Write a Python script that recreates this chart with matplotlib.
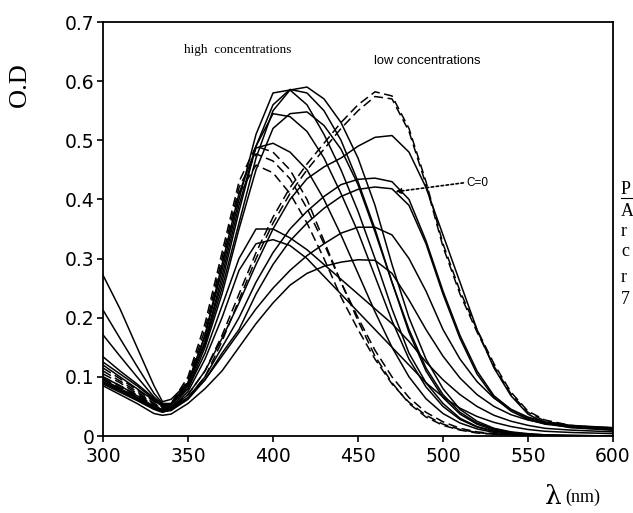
import matplotlib
matplotlib.use("Agg")
import matplotlib.pyplot as plt
from matplotlib.lines import Line2D

# Wavelength grid (nm)
wavelength = [300, 310, 320, 330, 335, 340, 350, 360, 370, 380, 390, 400, 410, 420, 430,
              440, 450, 460, 470, 480, 490, 500, 510, 520, 530, 540, 550, 560, 575, 600]

# ---- high concentrations (band near 390-420 nm) ----
curve_A = [.134, .110, .088, .064, .055, .055, .090, .170, .280, .400, .510, .580, .585, .560, .510,
           .450, .380, .300, .215, .140, .090, .055, .030, .016, .008, .004, .002, .001, .000, .000]
curve_B = [.213, .165, .118, .072, .055, .052, .085, .160, .260, .380, .490, .560, .586, .580, .550,
           .500, .430, .350, .260, .175, .110, .065, .037, .020, .010, .005, .003, .001, .000, .000]
curve_C = [.272, .215, .150, .085, .058, .062, .090, .155, .250, .360, .470, .550, .585, .590, .570,
           .530, .470, .390, .290, .200, .130, .080, .045, .025, .013, .007, .004, .002, .001, .000]
curve_D = [.125, .105, .085, .062, .052, .053, .085, .160, .270, .390, .490, .545, .540, .515, .470,
           .410, .345, .270, .195, .130, .083, .050, .028, .015, .008, .004, .002, .001, .000, .000]
curve_E = [.171, .135, .100, .066, .053, .054, .080, .150, .240, .350, .450, .520, .545, .548, .525,
           .485, .425, .345, .260, .180, .115, .070, .040, .022, .012, .006, .003, .002, .001, .000]
curve_F = [.120, .100, .080, .060, .050, .052, .090, .170, .290, .410, .487, .495, .480, .450, .400,
           .340, .275, .210, .150, .100, .063, .038, .022, .012, .006, .003, .002, .001, .000, .000]
curve_G1 = [.115, .097, .078, .058, .049, .055, .100, .190, .310, .430, .490, .480, .450, .400, .330,
            .260, .195, .135, .090, .055, .032, .018, .010, .005, .003, .002, .001, .000, .000, .000]
curve_G2 = [.110, .093, .075, .055, .047, .052, .095, .180, .300, .420, .477, .465, .435, .385, .325,
            .260, .200, .145, .100, .065, .040, .024, .013, .007, .004, .002, .001, .000, .000, .000]
curve_G3 = [.105, .090, .072, .054, .046, .050, .090, .170, .290, .410, .458, .445, .410, .360, .300,
            .235, .180, .130, .088, .057, .035, .020, .011, .006, .003, .002, .001, .000, .000, .000]

# ---- intermediate concentrations ----
curve_M1 = [.100, .085, .068, .050, .045, .048, .080, .140, .220, .300, .350, .350, .335, .315, .290,
            .265, .240, .215, .190, .160, .125, .095, .070, .050, .035, .025, .018, .013, .010, .007]
curve_M2 = [.095, .080, .065, .048, .043, .046, .075, .130, .200, .280, .325, .332, .322, .300, .270,
            .240, .210, .180, .150, .120, .090, .066, .047, .033, .023, .016, .011, .008, .006, .004]

# ---- low concentrations (band near 455-465 nm) ----
curve_L1 = [.100, .085, .070, .052, .045, .048, .070, .110, .170, .240, .310, .370, .420, .460, .495,
            .530, .560, .582, .575, .520, .430, .325, .245, .180, .122, .074, .042, .027, .018, .012]
curve_L2 = [.097, .082, .067, .050, .044, .046, .065, .100, .160, .230, .300, .360, .410, .450, .485,
            .520, .550, .574, .570, .515, .425, .320, .240, .176, .118, .071, .040, .025, .017, .012]
curve_L3 = [.095, .080, .065, .049, .043, .045, .070, .110, .165, .225, .290, .350, .400, .435, .455,
            .470, .490, .505, .508, .480, .420, .340, .260, .180, .115, .068, .037, .022, .014, .010]
curve_L4 = [.092, .078, .063, .047, .042, .044, .065, .100, .150, .200, .260, .310, .350, .380, .405,
            .425, .434, .436, .430, .400, .330, .245, .170, .110, .068, .045, .030, .022, .016, .012]
curve_C0 = [.090, .076, .061, .046, .041, .043, .062, .095, .140, .180, .240, .290, .330, .360, .385,
            .405, .417, .421, .418, .390, .325, .240, .165, .105, .065, .042, .028, .020, .015, .010]
curve_L6 = [.088, .074, .060, .045, .040, .045, .065, .095, .135, .175, .215, .250, .280, .305, .325,
            .343, .353, .353, .340, .300, .245, .180, .130, .092, .064, .045, .032, .024, .018, .014]
curve_L7 = [.085, .070, .055, .038, .035, .037, .055, .080, .110, .150, .190, .225, .255, .275, .287,
            .294, .298, .297, .275, .230, .180, .135, .098, .070, .050, .036, .027, .021, .017, .014]

solid_curves = [curve_A, curve_B, curve_C, curve_D, curve_E, curve_F, curve_M1, curve_M2,
                curve_L3, curve_L4, curve_C0, curve_L6, curve_L7]
dashed_curves = [curve_G1, curve_G2, curve_G3, curve_L1, curve_L2]

x_ticks = [300, 350, 400, 450, 500, 550, 600]
y_ticks = [0, 0.1, 0.2, 0.3, 0.4, 0.5, 0.6, 0.7]
y_ticklabels = ["0", "0.1", "0.2", "0.3", "0.4", "0.5", "0.6", "0.7"]

fig = plt.figure(figsize=(6.33, 5.13), dpi=100)
ax = fig.add_axes([103 / 633, 1 - 436 / 513, (613 - 103) / 633, (436 - 22) / 513])

for c in solid_curves:
    ax.plot(wavelength, c, color="black", lw=1.1, solid_joinstyle="round")
for c in dashed_curves:
    ax.plot(wavelength, c, color="black", lw=1.1, ls=(0, (6, 3)))

ax.set_xlim(300, 600)
ax.set_ylim(0, 0.7)
ax.set_xticks(x_ticks)
ax.set_xticklabels([str(t) for t in x_ticks])
ax.set_yticks(y_ticks)
ax.set_yticklabels(y_ticklabels)
ax.tick_params(direction="out", length=4, width=1.2, labelsize=13.5, pad=2, colors="black")
ax.tick_params(axis="x", pad=4)
for s in ax.spines.values():
    s.set_linewidth(1.3)

ax.text(379, 0.652, "high  concentrations", family="Liberation Serif", fontsize=9.5,
        ha="center", va="center")
ax.text(491, 0.634, "low concentrations", family="Liberation Sans", fontsize=9.3,
        ha="center", va="center")
ax.text(514, 0.428, "C=0", family="Liberation Sans", fontsize=8.5, ha="left", va="center")
ax.annotate("", xy=(472, 0.413), xytext=(512, 0.428),
            arrowprops=dict(arrowstyle="-|>", color="black", lw=1.2, ls=(0, (1.5, 1.5)),
                            mutation_scale=8, shrinkA=0, shrinkB=0))

fig.text(20 / 633, 1 - 85 / 513, "O.D", family="Liberation Serif", fontsize=19,
         rotation=90, ha="center", va="center")
fig.text(545 / 633, 1 - 497 / 513, "λ", family="DejaVu Serif", fontsize=19,
         ha="left", va="center")
fig.text(565 / 633, 1 - 497 / 513, "(nm)", family="Liberation Serif", fontsize=13,
         ha="left", va="center")

# cut-off caption letters at right margin
for ch, ypx in [("P", 190), ("A", 212), ("r", 232), ("c", 252), ("r", 277), ("7", 299)]:
    fig.text(621 / 633, 1 - ypx / 513, ch, family="Liberation Serif", fontsize=13,
             ha="left", va="center")
fig.add_artist(Line2D([621 / 633, 633 / 633], [1 - 198 / 513, 1 - 198 / 513],
                      color="black", lw=0.8, transform=fig.transFigure))

fig.savefig("out.png", dpi=100)
